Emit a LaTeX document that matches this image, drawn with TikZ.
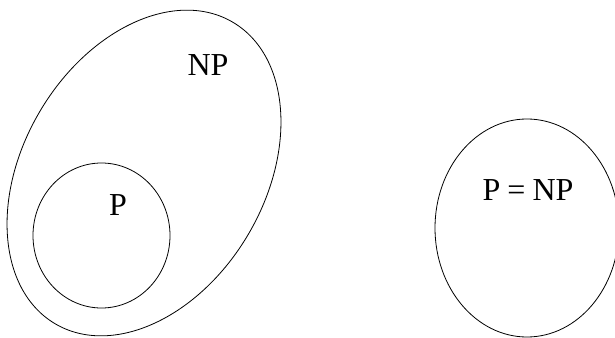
\documentclass[tikz,border=0pt]{standalone}
\usepackage{fontspec}
\setmainfont{Liberation Serif}
\begin{document}
\begin{tikzpicture}[x=1pt,y=-1pt,
  setline/.style={draw=black,line width=0.8pt},
  lbl/.style={font=\fontsize{32}{32}\selectfont,inner sep=0pt}]
\useasboundingbox (0,0) rectangle (615,337);
\draw[setline] (144,173) ellipse[x radius=175,y radius=121,rotate=59.5];
\draw[setline] (101.5,235.5) ellipse[x radius=68.5,y radius=72.5];
\draw[setline] (527,228) ellipse[x radius=92,y radius=109];
\node[lbl] (np) at (208,65) {NP};
\node[lbl] (p) at (118,205) {P};
\node[lbl] (pnp) at (528,190) {P\hspace{0.22em}=\hspace{0.22em}NP};
\end{tikzpicture}
\end{document}
